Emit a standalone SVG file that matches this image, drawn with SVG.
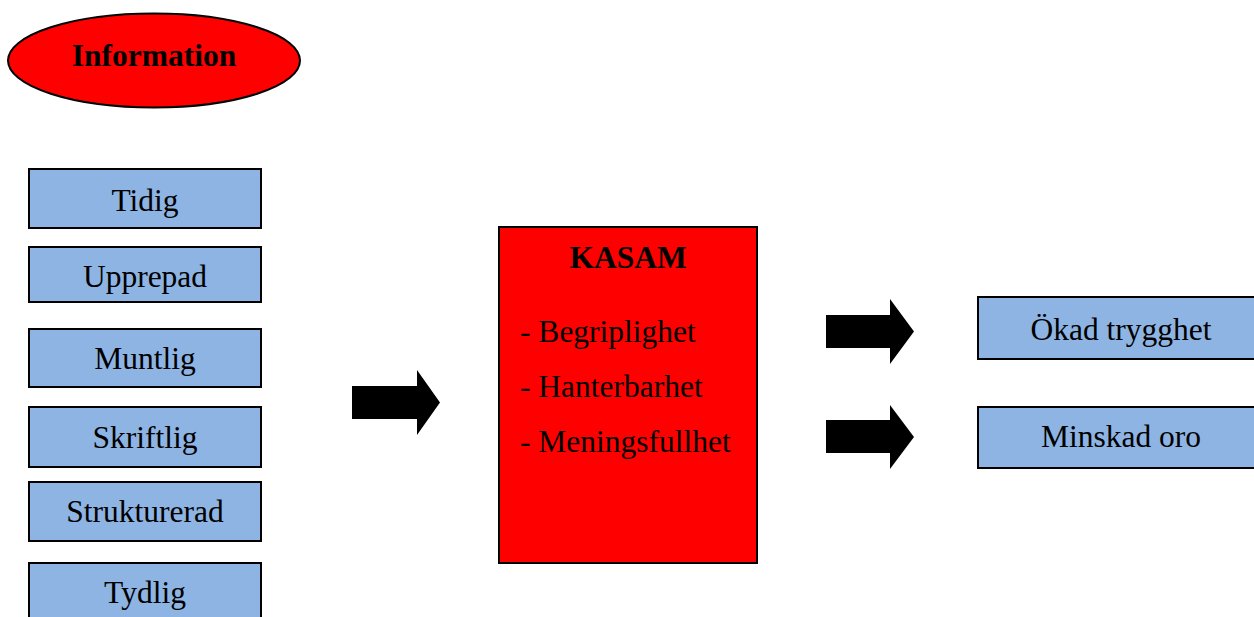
<svg xmlns="http://www.w3.org/2000/svg" width="1254" height="617" viewBox="0 0 1254 617">
<style>
.box{fill:#8EB4E3;stroke:#000;stroke-width:2}
.red{fill:#FF0000;stroke:#000;stroke-width:2}
.t{font-family:"Liberation Serif","Times New Roman",serif;font-size:31.5px;fill:#000}
.c{text-anchor:middle}
.b{font-weight:bold}
.arrow{fill:#000}
</style>
<rect width="1254" height="617" fill="#fff"/>
<g id="information">
<ellipse class="red" cx="154" cy="60.5" rx="146" ry="47"/>
<text class="t c b" x="154" y="66">Information</text>
</g>
<g id="tidig"><rect class="box" x="29" y="169" width="232" height="59"/><text class="t c" x="145" y="211">Tidig</text></g>
<g id="upprepad"><rect class="box" x="29" y="247" width="232" height="55"/><text class="t c" x="145" y="287">Upprepad</text></g>
<g id="muntlig"><rect class="box" x="29" y="329" width="232" height="58"/><text class="t c" x="145" y="369">Muntlig</text></g>
<g id="skriftlig"><rect class="box" x="29" y="407" width="232" height="60"/><text class="t c" x="145" y="448">Skriftlig</text></g>
<g id="strukturerad"><rect class="box" x="29" y="482" width="232" height="59"/><text class="t c" x="145" y="522">Strukturerad</text></g>
<g id="tydlig"><rect class="box" x="29" y="563" width="232" height="70"/><text class="t c" x="145" y="603">Tydlig</text></g>
<g id="kasam">
<rect class="red" x="499" y="227" width="258" height="336"/>
<text class="t c b" x="628" y="268">KASAM</text>
<text class="t" x="520" y="342">- Begriplighet</text>
<text class="t" x="520" y="397">- Hanterbarhet</text>
<text class="t" x="520" y="452">- Meningsfullhet</text>
</g>
<g id="okad"><rect class="box" x="978" y="297" width="290" height="62"/><text class="t c" x="1121" y="340">Ökad trygghet</text></g>
<g id="minskad"><rect class="box" x="978" y="407" width="290" height="61"/><text class="t c" x="1121" y="447">Minskad oro</text></g>
<g id="connectors">
<polygon class="arrow" points="352,386 417,386 417,370 440,402.5 417,435 417,419 352,419"/>
<polygon class="arrow" points="826,315 890,315 890,299 914,331.5 890,364 890,348 826,348"/>
<polygon class="arrow" points="826,420 890,420 890,405 914,437 890,469 890,453 826,453"/>
</g>
</svg>
